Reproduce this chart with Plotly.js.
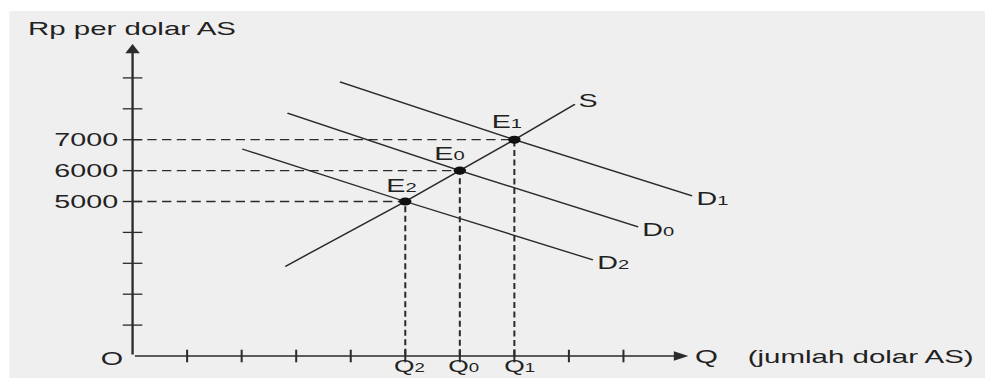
<!DOCTYPE html>
<html><head><meta charset="utf-8">
<script src="https://cdn.plot.ly/plotly-3.0.1.min.js"></script>
<style>
html,body{margin:0;padding:0;background:#fff;overflow:hidden;width:985px;height:378px;}
#wrap{width:635px;height:378px;transform:scaleX(1.5512);transform-origin:0 0;}
</style></head><body>
<div id="wrap"><div id="chart" style="width:635px;height:378px"></div></div>
<script>
// ---- data ----
const priceTicks = [1000, 2000, 3000, 4000, 5000, 6000, 7000, 8000, 9000];
const labeledPrices = [5000, 6000, 7000];
const priceLabels = ['5000', '6000', '7000'];
const qtyTicks = [1, 2, 3, 4, 5, 6, 7, 8, 9];
const eqQty = [5, 6, 7];
const eqPrice = [5000, 6000, 7000];
const eqNames = ['E|2', 'E|0', 'E|1'];
const qtyNames = ['Q|2', 'Q|0', 'Q|1'];
const supplyQ = [2.8, 5, 6, 7, 8.11];
const supplyP = [2900, 5000, 6000, 7000, 8150];
const d1Q = [3.8, 7, 10.26];
const d1P = [8870, 7000, 5180];
const d0Q = [2.84, 6, 9.27];
const d0P = [7860, 6000, 4180];
const d2Q = [2.01, 5, 8.44];
const d2P = [6700, 5000, 3110];
const curveNames = ['S', 'D|1', 'D|0', 'D|2'];
const axisQmax = 10.19;
const axisPmax = 10100;
const yTitle = 'Rp per dolar AS';
const xSymbol = 'Q';
const xTitle = '(jumlah dolar AS)';
const originLabel = 'O';

// ---- styles ----
const INK = '#2b2b2b';
const FONT = 'Liberation Sans, Arial, Helvetica, sans-serif';
const FS = 18.5;
const sub = (s, px) => { const [a, b] = s.split('|'); return b === undefined ? a : a + '<span style="font-size:' + (px || 13) + 'px">' + b + '</span>'; };

// dashed guides from the axes to each equilibrium
const gx = [], gy = [];
eqQty.forEach((q, i) => { gx.push(0, q, q, null); gy.push(eqPrice[i], eqPrice[i], 0, null); });

const lineStyle = {color: INK, width: 1.3};
const traces = [
  {x: gx, y: gy, mode: 'lines', line: {color: INK, width: 1.3, dash: '6px,3.5px'}, hoverinfo: 'skip'},
  {x: supplyQ, y: supplyP, mode: 'lines', line: lineStyle},
  {x: d1Q, y: d1P, mode: 'lines', line: lineStyle},
  {x: d0Q, y: d0P, mode: 'lines', line: lineStyle},
  {x: d2Q, y: d2P, mode: 'lines', line: lineStyle},
  {x: priceTicks.map(() => 0), y: priceTicks, mode: 'markers', cliponaxis: false,
   marker: {symbol: 'line-ew', size: 9, line: {color: INK, width: 1.3}}},
  {x: qtyTicks, y: qtyTicks.map(() => 0), mode: 'markers', cliponaxis: false,
   marker: {symbol: 'line-ns', size: 9, line: {color: INK, width: 1.3}}},
  {x: eqQty, y: eqPrice, mode: 'markers', marker: {size: 8, color: '#111'}}
];

const fnt = {family: FONT, size: FS, color: '#222'};
const fntBig = {family: FONT, size: 19, color: '#222'};
const fntQ = {family: FONT, size: 17, color: '#222'};
const ann = [];
// axes with arrow heads
ann.push({x: 0, y: axisPmax, ax: 0, ay: 0, axref: 'x', ayref: 'y', xref: 'x', yref: 'y', text: '',
  showarrow: true, arrowhead: 2, arrowsize: 1.25, arrowwidth: 1.5, arrowcolor: INK, standoff: 0, startstandoff: 0});
ann.push({x: axisQmax, y: 0, ax: 0, ay: 0, axref: 'x', ayref: 'y', xref: 'x', yref: 'y', text: '',
  showarrow: true, arrowhead: 2, arrowsize: 1.25, arrowwidth: 1.5, arrowcolor: INK, standoff: 0, startstandoff: 0});
// y tick labels
labeledPrices.forEach((p, i) => ann.push({x: 0, y: p, xref: 'x', yref: 'y', text: priceLabels[i], showarrow: false,
  xanchor: 'right', yanchor: 'middle', xshift: -7, font: fnt}));
// origin
ann.push({x: 0, y: 0, xref: 'x', yref: 'y', text: originLabel, showarrow: false, xanchor: 'right', yanchor: 'middle',
  xshift: -4.5, yshift: -2, font: fnt});
// axis titles
ann.push({x: 0, y: axisPmax, xref: 'x', yref: 'y', text: yTitle, showarrow: false, xanchor: 'left', yanchor: 'middle',
  xshift: -69, yshift: 15, font: fntBig});
ann.push({x: axisQmax, y: 0, xref: 'x', yref: 'y', text: xSymbol, showarrow: false, xanchor: 'left', yanchor: 'middle',
  xshift: 2.5, yshift: 0, font: fntBig});
ann.push({x: axisQmax, y: 0, xref: 'x', yref: 'y', text: xTitle, showarrow: false, xanchor: 'left', yanchor: 'middle',
  xshift: 36.5, yshift: 0, font: fntBig});
// quantity labels under the axis
eqQty.forEach((q, i) => ann.push({x: q, y: 0, xref: 'x', yref: 'y', text: sub(qtyNames[i], 12), showarrow: false,
  xanchor: 'center', yanchor: 'top', xshift: 3, yshift: 0, borderpad: 0, font: fntQ}));
// equilibrium labels
const eqShift = [[-2, 16], [-6, 17], [-4.5, 18]];
eqQty.forEach((q, i) => ann.push({x: q, y: eqPrice[i], xref: 'x', yref: 'y', text: sub(eqNames[i]), showarrow: false,
  xanchor: 'center', yanchor: 'middle', xshift: eqShift[i][0], yshift: eqShift[i][1], font: fnt}));
// curve labels at line ends
const ends = [[supplyQ, supplyP, 4], [d1Q, d1P, -3], [d0Q, d0P, -3], [d2Q, d2P, -3]];
ends.forEach(([qx, py, ys], i) => ann.push({x: qx[qx.length - 1], y: py[py.length - 1], xref: 'x', yref: 'y',
  text: sub(curveNames[i]), showarrow: false, xanchor: 'left', yanchor: 'middle', xshift: 0.5, yshift: ys, font: fnt}));

const layout = {
  width: 635, height: 378,
  margin: {l: 5.8, r: 0, t: 11, b: 0, pad: 0},
  paper_bgcolor: '#ffffff', plot_bgcolor: '#efefef',
  showlegend: false,
  xaxis: {range: [-2.26, 15.629], visible: false, fixedrange: true},
  yaxis: {range: [-712, 11165], visible: false, fixedrange: true},
  annotations: ann,
  font: {family: FONT}
};
Plotly.newPlot('chart', traces, layout, {displayModeBar: false, staticPlot: true});
</script></body></html>
